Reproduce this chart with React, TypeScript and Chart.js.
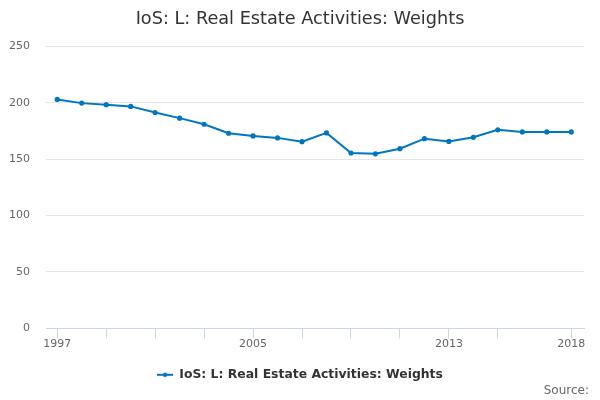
import { useEffect, useRef } from "react"
import { Chart, registerables } from "chart.js"

Chart.register(...registerables)

const years = [
  1997, 1998, 1999, 2000, 2001, 2002, 2003, 2004, 2005, 2006, 2007,
  2008, 2009, 2010, 2011, 2012, 2013, 2014, 2015, 2016, 2017, 2018,
]
const weights = [
  202.9, 199.6, 198.2, 196.7, 191.3, 186.3, 180.9, 172.9, 170.5, 168.8, 165.4,
  173.2, 155.4, 154.7, 159.2, 168.1, 165.7, 169.3, 175.9, 174.1, 174.1, 174.1,
]
const tickYears = [1997, 1999, 2001, 2003, 2005, 2007, 2009, 2011, 2013, 2015, 2018]
const labelYears = [1997, 2005, 2013, 2018]
const yTicks = [0, 50, 100, 150, 200, 250]

const seriesName = "IoS: L: Real Estate Activities: Weights"
const lineColor = "#0076c0"
const font = "'DejaVu Sans', sans-serif"

// small line+dot symbol for the legend
function legendSymbol() {
  const c = document.createElement("canvas")
  c.width = 16
  c.height = 8
  const g = c.getContext("2d")
  if (g) {
    g.strokeStyle = lineColor
    g.lineWidth = 2
    g.beginPath()
    g.moveTo(0, 4)
    g.lineTo(16, 4)
    g.stroke()
    g.fillStyle = lineColor
    g.beginPath()
    g.arc(8, 4, 2.2, 0, Math.PI * 2)
    g.fill()
  }
  return c
}

const sourcePlugin = {
  id: "sourceNote",
  afterDraw(chart: Chart) {
    const ctx = chart.ctx
    ctx.save()
    ctx.font = "12px " + font
    ctx.fillStyle = "#666666"
    ctx.textAlign = "right"
    ctx.textBaseline = "middle"
    ctx.fillText("Source:", 589, 391)
    ctx.restore()
  },
}

export default function App() {
  const chartRef = useRef<HTMLCanvasElement>(null)
  const chartInstance = useRef<Chart | null>(null)

  useEffect(() => {
    document.body.style.margin = "0"
    if (!chartRef.current) return
    if (chartInstance.current) chartInstance.current.destroy()
    const ctx = chartRef.current.getContext("2d")
    if (!ctx) return

    Chart.defaults.font.family = font

    chartInstance.current = new Chart(ctx, {
      type: "line",
      data: {
        datasets: [
          {
            label: seriesName,
            data: years.map((y, i) => ({ x: y, y: weights[i] })),
            borderColor: lineColor,
            backgroundColor: lineColor,
            borderWidth: 2,
            pointRadius: 1.6,
            pointHoverRadius: 3,
            tension: 0,
          },
        ],
      },
      options: {
        animation: false,
        responsive: false,
        maintainAspectRatio: false,
        layout: { padding: { left: 0, right: 0, top: 0, bottom: 9 } },
        plugins: {
          title: {
            display: true,
            text: "IoS: L: Real Estate Activities: Weights",
            color: "#333333",
            font: { size: 17.7, weight: "normal" },
            padding: { top: 9, bottom: 16 },
          },
          legend: {
            position: "bottom",
            labels: {
              color: "#333333",
              font: { size: 12.4, weight: "bold" },
              usePointStyle: true,
              pointStyle: legendSymbol(),
              pointStyleWidth: 16,
              boxHeight: 8,
            },
          },
          tooltip: { enabled: false },
        },
        scales: {
          x: {
            type: "linear",
            min: 1996.54,
            max: 2018.52,
            afterBuildTicks: (scale) => {
              scale.ticks = tickYears.map((v) => ({ value: v }))
            },
            afterFit: (scale) => {
              scale.height += 9
            },
            ticks: {
              autoSkip: false,
              maxRotation: 0,
              color: "#666666",
              font: { size: 11 },
              padding: -1,
              callback: (v) => (labelYears.includes(Number(v)) ? String(v) : ""),
            },
            grid: {
              drawOnChartArea: false,
              drawTicks: true,
              tickLength: 10,
              color: "#ccd6eb",
            },
            border: { display: true, color: "#ccd6eb", width: 1 },
          },
          y: {
            min: 0,
            max: 250,
            afterBuildTicks: (scale) => {
              scale.ticks = yTicks.map((v) => ({ value: v }))
            },
            afterFit: (scale) => {
              scale.width = 46
            },
            ticks: {
              color: "#666666",
              font: { size: 11 },
              padding: 16,
            },
            grid: { color: "#e6e6e6", drawTicks: false },
            border: { display: false },
          },
          // empty right-hand gutter so the plot ends at 584px
          gutter: {
            type: "linear",
            position: "right",
            afterFit: (scale) => {
              scale.width = 16
            },
            ticks: { display: false },
            grid: { display: false },
            border: { display: false },
          },
        },
      },
      plugins: [sourcePlugin],
    })

    return () => {
      if (chartInstance.current) {
        chartInstance.current.destroy()
        chartInstance.current = null
      }
    }
  }, [])

  return (
    <div style={{ width: 600, height: 400 }}>
      <canvas ref={chartRef} width={600} height={400} />
    </div>
  )
}
